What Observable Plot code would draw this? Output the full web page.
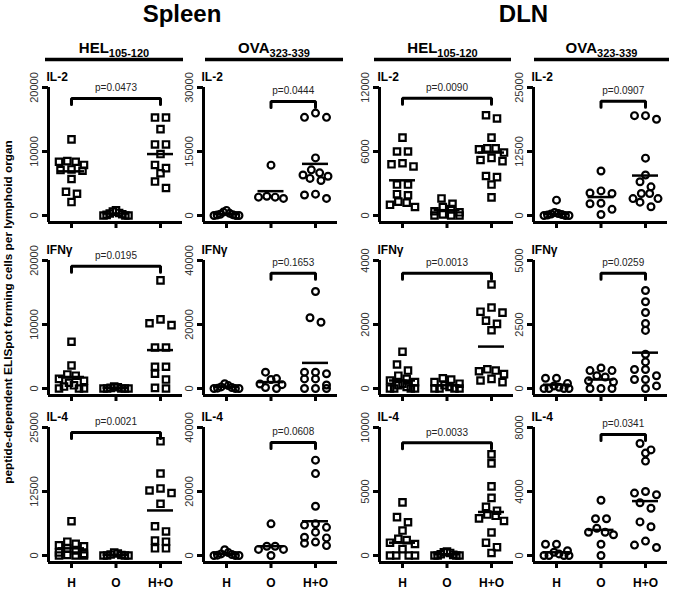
<!DOCTYPE html>
<html><head><meta charset="utf-8">
<script src="https://cdn.jsdelivr.net/npm/d3@7"></script>
<script src="https://cdn.jsdelivr.net/npm/@observablehq/plot@0.6"></script>
<style>
body{margin:0;background:#fff;}
#fig{position:relative;width:676px;height:591px;overflow:hidden;font-family:"Liberation Sans",Arial,Helvetica,sans-serif;color:#000;background:#fff;}
#fig svg{position:absolute;overflow:visible;}
</style></head><body><div id="fig"></div>
<script>
// ---------- data ----------
const groups = ["H", "O", "H+O"];
const organs = ["Spleen", "DLN"];
const peptideNames = ["HEL", "OVA", "HEL", "OVA"];
const peptideSubs = ["105-120", "323-339", "105-120", "323-339"];
const cytokines = ["IL-2", "IFNγ", "IL-4"];
const yAxisTitle = "peptide-dependent ELISpot forming cells per lymphoid organ";

// axis maxima per row, columns: Spleen HEL, Spleen OVA, DLN HEL, DLN OVA
const yMax = [[20000, 30000, 12000, 25000], [20000, 40000, 4000, 5000], [25000, 40000, 10000, 8000]];
const pLabels = [["p=0.0473", "p=0.0444", "p=0.0090", "p=0.0907"],
                 ["p=0.0195", "p=0.1653", "p=0.0013", "p=0.0259"],
                 ["p=0.0021", "p=0.0608", "p=0.0033", "p=0.0341"]];
const bracketLevel = [[18300, 26700, 11000, 22300], [19100, 36000, 3600, 4500], [24000, 35300, 8800, 7560]];
const comparedPairs = [[0, 2], [1, 2], [0, 2], [1, 2]];

// values per group [H, O, H+O]
const spleenHel_IL2 = [[11900, 8500, 8400, 8400, 7900, 7200, 7100, 7000, 5700, 3700, 3400, 2100], [800, 600, 400, 300, 200, 100, 0, 0, 0], [15300, 15300, 13500, 11100, 11100, 9600, 7900, 7400, 6600, 5300, 4300]];
const spleenOva_IL2 = [[1200, 800, 500, 300, 200, 100, 0, 0, 0], [11800, 4500, 4300, 4300, 4000], [24000, 23000, 23000, 13500, 10700, 10000, 9500, 9200, 8700, 8200, 5000, 4800, 4000]];
const dlnHel_IL2 = [[7300, 6000, 6000, 4900, 4800, 4600, 2900, 2900, 2000, 1900, 1300, 1200, 1000, 800], [1600, 1100, 800, 600, 400, 300, 100, 0, 0, 0], [9400, 9100, 7300, 6300, 6300, 6200, 5900, 5400, 5200, 5100, 3700, 3600, 2900, 1700]];
const dlnOva_IL2 = [[3000, 600, 400, 300, 200, 100, 0, 0, 0], [8700, 4800, 4400, 4300, 2400, 2300, 1200, 200], [19500, 19500, 18800, 11200, 7900, 6600, 5600, 4300, 4300, 3300, 3300, 2600, 1700]];

const spleenHel_IFNg = [[7300, 3600, 2200, 2000, 1500, 1200, 900, 500, 300, 0, 0, 0], [300, 200, 100, 0, 0, 0, 0, 0], [16900, 10800, 10200, 9900, 6400, 6400, 3400, 3400, 2300, 1400, 100, 0]];
const spleenOva_IFNg = [[1500, 900, 500, 300, 100, 0, 0, 0], [5100, 3100, 2800, 1400, 1200, 300, 0], [30300, 22100, 20700, 5100, 5100, 4600, 3000, 3000, 1100, 0, 0, 0]];
const dlnHel_IFNg = [[1150, 750, 560, 400, 300, 250, 200, 150, 100, 50, 0, 0, 0, 0], [320, 280, 200, 150, 100, 50, 0, 0, 0, 0], [3250, 2530, 2400, 2370, 2120, 2020, 1820, 600, 560, 540, 450, 300, 250, 200]];
const dlnOva_IFNg = [[400, 400, 200, 100, 50, 0, 0, 0, 0], [800, 700, 700, 500, 450, 300, 250, 0, 0, 0], [3830, 3390, 2970, 2540, 2270, 1340, 1040, 740, 740, 500, 350, 350, 100, 0]];

const spleenHel_IL4 = [[6700, 2700, 2300, 2000, 1800, 1400, 1000, 600, 300, 100, 0, 0, 0], [600, 400, 200, 100, 0, 0, 0, 0], [22300, 16000, 13100, 12700, 12200, 10100, 5700, 4700, 2900, 2700, 1400, 1400]];
const spleenOva_IL4 = [[1800, 900, 500, 300, 100, 0, 0, 0], [9900, 2900, 2900, 1900, 1900, 0], [29800, 25600, 15400, 9900, 9500, 8800, 7300, 5700, 5500, 4200, 3800, 3100]];
const dlnHel_IL4 = [[4150, 3000, 2600, 1950, 1300, 1200, 1000, 900, 500, 0, 0, 0, 0], [300, 250, 200, 100, 50, 0, 0, 0, 0], [7900, 7200, 5400, 4500, 3800, 3500, 3200, 3100, 2900, 2700, 1800, 1000, 650, 200]];
const dlnOva_IL4 = [[700, 700, 300, 200, 100, 0, 0, 0, 0], [3450, 2300, 2300, 1700, 1450, 1450, 1300, 700, 0], [7000, 6600, 6400, 5900, 4000, 3900, 3800, 3300, 2950, 2100, 1800, 900, 650, 500]];

// group mean lines [H, O, H+O]
const meansIL2 = [[6900, 300, 9600], [300, 5700, 12100], [3300, 500, 5900], [300, 3600, 7800]];
const meansIFNg = [[1800, 100, 6000], [500, 2000, 8000], [250, 100, 1310], [150, 350, 1400]];
const meansIL4 = [[1400, 150, 8800], [400, 2900, 10700], [1000, 100, 3400], [200, 1600, 3400]];

const panelValues = [
  [spleenHel_IL2, spleenOva_IL2, dlnHel_IL2, dlnOva_IL2],
  [spleenHel_IFNg, spleenOva_IFNg, dlnHel_IFNg, dlnOva_IFNg],
  [spleenHel_IL4, spleenOva_IL4, dlnHel_IL4, dlnOva_IL4]
];
const panelMeans = [meansIL2, meansIFNg, meansIL4];

// ---------- layout ----------
const FONT = '"Liberation Sans", Arial, Helvetica, sans-serif';
const axisLeft = [48, 203, 379, 533];
const rowTop = [87, 260, 427];
const PX = 44.5;   // px between groups
const SPAN = 128;  // px from 0 to max
const OFF = 7;     // axis offset below zero
const ML = 36, MT = 18, MR = 6;
const fig = document.getElementById("fig");

function swarm(values, perPx) {
  const pts = [];
  values.forEach((vals, gi) => {
    const sorted = vals.slice().sort((a, b) => b - a);
    let i = 0;
    while (i < sorted.length) {
      let j = i + 1;
      while (j < sorted.length && (sorted[i] - sorted[j]) / perPx < 6.5) j++;
      const n = j - i;
      const s = n > 1 ? Math.min(11, 25 / (n - 1)) : 0;
      const slots = d3.range(n).map(k => (k - (n - 1) / 2) * s)
        .sort((a, b) => Math.abs(a) - Math.abs(b) || a - b);
      for (let k = 0; k < n; k++) pts.push({g: gi, x: gi + slots[k] / PX, y: sorted[i + k]});
      i = j;
    }
  });
  return pts;
}

function panel(row, col) {
  const max = yMax[row][col];
  const perPx = max / SPAN;
  const yMin = -OFF * perPx;
  const xMin = -23 / PX, xMax = 2 + 22 / PX;
  const mb = row === 2 ? 36 : 14;
  const width = ML + (xMax - xMin) * PX + MR;
  const height = MT + SPAN + OFF + mb;
  const pts = swarm(panelValues[row][col], perPx);
  const means = panelMeans[row][col].map((m, i) => ({g: i, y: m}));
  const [a, b] = comparedPairs[col];
  const lvl = bracketLevel[row][col];
  const leg = 6 * perPx;
  const bracket = [{x: a, y: lvl - leg}, {x: a, y: lvl}, {x: b, y: lvl}, {x: b, y: lvl - leg}];
  const ticks = [0, max / 2, max];
  const marks = [
    Plot.ruleX([xMin], {y1: yMin, y2: max, strokeWidth: 3}),
    Plot.ruleY([yMin], {x1: xMin, x2: xMax, strokeWidth: 3}),
    Plot.ruleY(ticks, {x1: xMin - 6 / PX, x2: xMin, strokeWidth: 3}),
    Plot.ruleX([0, 1, 2], {y1: yMin, y2: yMin - 6 * perPx, strokeWidth: 3}),
    Plot.text(ticks, {x: xMin, y: d => d, text: d => String(d), rotate: -90, dx: -14, fontSize: 11, fill: "#333"}),
    Plot.text([cytokines[row]], {x: xMin, y: max, dx: -2, dy: -10.5, textAnchor: "start", fontWeight: "bold", fontSize: 12}),
    Plot.dot(pts, {x: "x", y: "y", symbol: col % 2 === 0 ? "square" : "circle", r: col % 2 === 0 ? 3.6 : 3.4, stroke: "black", strokeWidth: 2.2, fill: "none"}),
    Plot.ruleY(means, {y: "y", x1: d => d.g - 13 / PX, x2: d => d.g + 13 / PX, strokeWidth: 2.5}),
    Plot.line(bracket, {x: "x", y: "y", strokeWidth: 3, strokeLinejoin: "miter"}),
    Plot.text([pLabels[row][col]], {x: (a + b) / 2, y: lvl, dy: -10.5, fontSize: 10, fill: "#222"})
  ];
  if (row === 2) marks.push(Plot.text(groups, {x: (d, i) => i, y: yMin, dy: 21, fontWeight: "bold", fontSize: 12}));
  const svg = Plot.plot({
    width, height, marginLeft: ML, marginRight: MR, marginTop: MT, marginBottom: mb,
    x: {domain: [xMin, xMax], axis: null},
    y: {domain: [yMin, max], axis: null},
    style: {fontFamily: FONT, background: "none", overflow: "visible"},
    marks
  });
  svg.style.left = (axisLeft[col] - ML) + "px";
  svg.style.top = (rowTop[row] - MT) + "px";
  fig.appendChild(svg);
}

// titles & headers overlay
const ov = d3.create("svg").attr("width", 676).attr("height", 591).style("left", "0px").style("top", "0px")
  .style("font-family", FONT);
const organCenter = [182, 523.5];
organs.forEach((o, i) => ov.append("text").attr("x", organCenter[i]).attr("y", 22).attr("text-anchor", "middle")
  .attr("font-size", 24).attr("font-weight", "bold").text(o));
const barX = [[45, 183], [205, 343], [374, 511], [534, 669]];
barX.forEach(([x1, x2], i) => {
  ov.append("line").attr("x1", x1).attr("x2", x2).attr("y1", 59.5).attr("y2", 59.5).attr("stroke", "black").attr("stroke-width", 3.5);
  const t = ov.append("text").attr("x", (x1 + x2) / 2).attr("y", 53).attr("text-anchor", "middle").attr("font-weight", "bold");
  t.append("tspan").attr("font-size", 15).text(peptideNames[i]);
  t.append("tspan").attr("font-size", 11).attr("dy", 4).text(peptideSubs[i]);
});
ov.append("text").attr("transform", "translate(11.5,312) rotate(-90)").attr("text-anchor", "middle")
  .attr("font-size", 11.8).attr("font-weight", "bold").text(yAxisTitle);
fig.appendChild(ov.node());

for (let r = 0; r < 3; r++) for (let c = 0; c < 4; c++) panel(r, c);
</script></body></html>
